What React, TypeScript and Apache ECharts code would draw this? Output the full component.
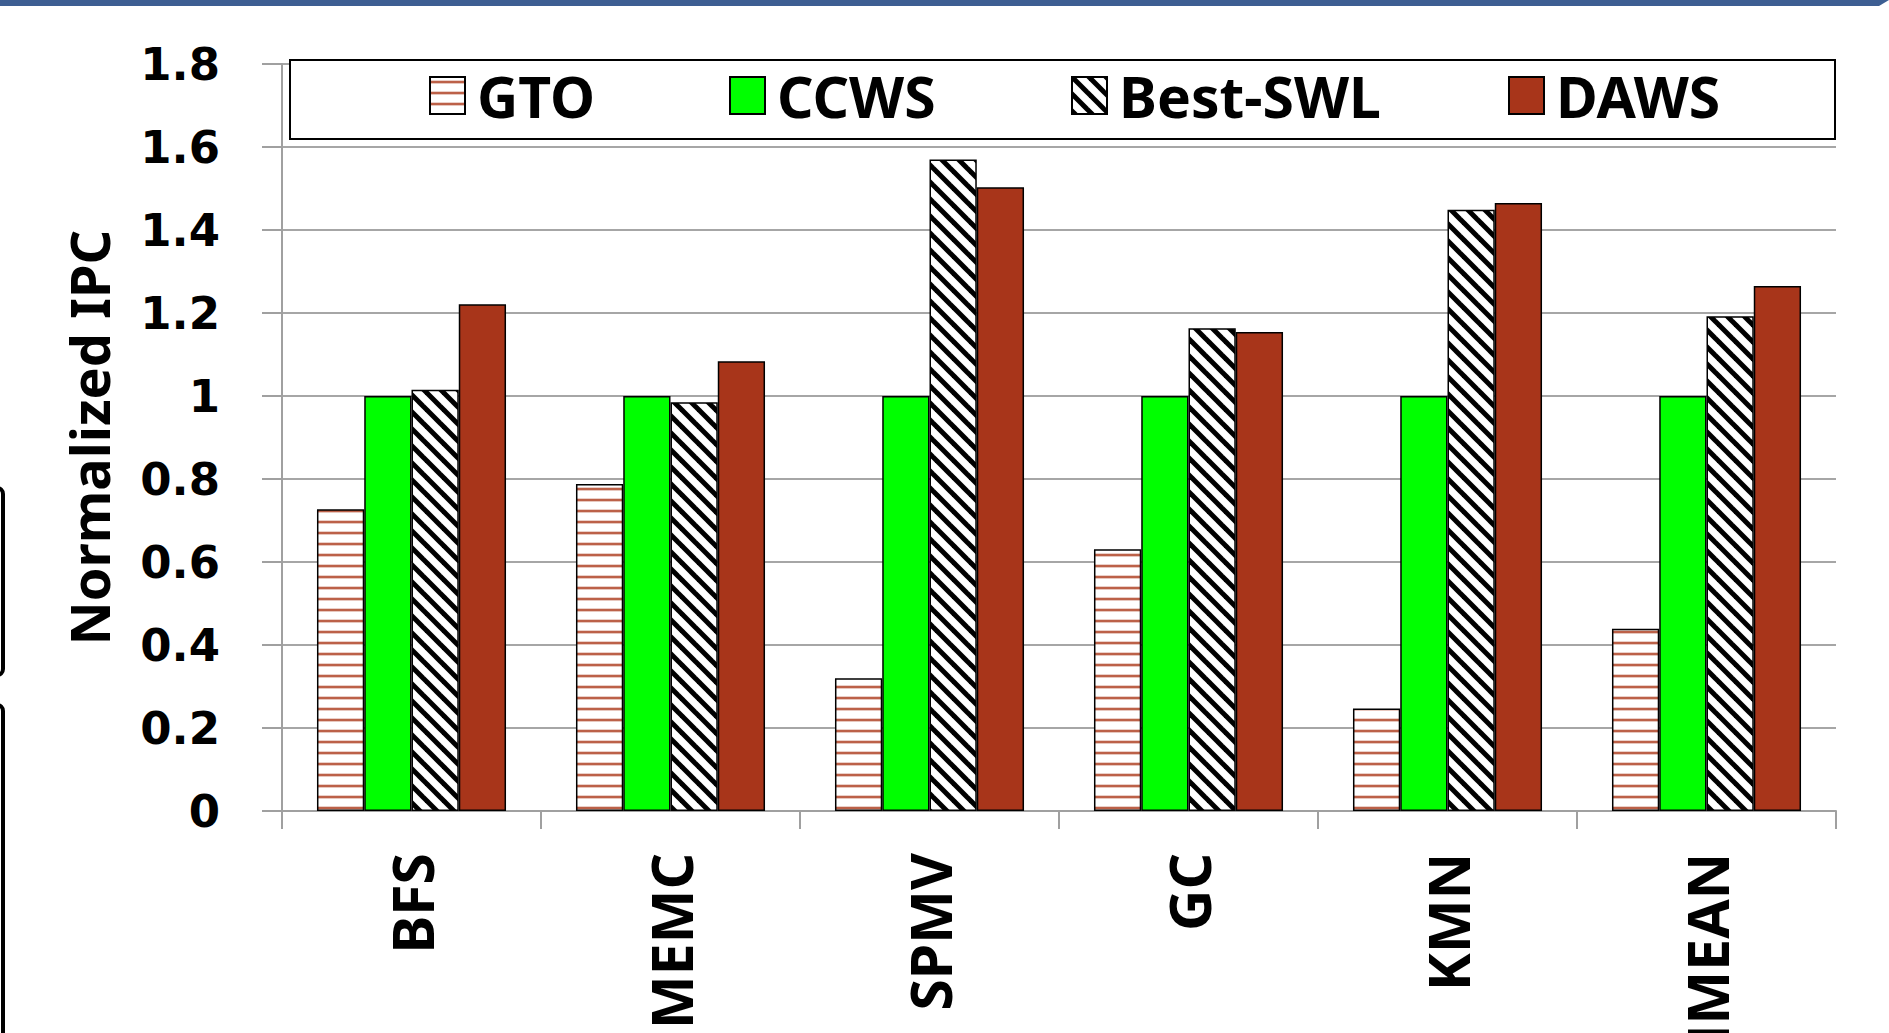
import React, { useEffect, useRef } from "react";
import * as echarts from "echarts";

const categories = ["BFS", "MEMC", "SPMV", "GC", "KMN", "HMEAN"];
const seriesNames = ["GTO", "CCWS", "Best-SWL", "DAWS"];
const gtoValues = [0.727, 0.788, 0.32, 0.631, 0.247, 0.439];
const ccwsValues = [1.0, 1.0, 1.0, 1.0, 1.0, 1.0];
const bestSwlValues = [1.015, 0.985, 1.57, 1.163, 1.449, 1.192];
const dawsValues = [1.221, 1.084, 1.503, 1.154, 1.465, 1.265];
const yTicks = { min: 0, max: 1.8, interval: 0.2 };

const NARROW = "'Noto Sans', 'Open Sans', sans-serif";
const WIDE = "'DejaVu Sans', Verdana, sans-serif";

function makeStripePattern() {
  const c = document.createElement("canvas");
  c.width = 8;
  c.height = 11;
  const ctx = c.getContext("2d")!;
  ctx.fillStyle = "#ffffff";
  ctx.fillRect(0, 0, 8, 11);
  ctx.fillStyle = "rgba(176,69,40,0.25)";
  ctx.fillRect(0, 3, 8, 1);
  ctx.fillStyle = "rgba(176,69,40,0.85)";
  ctx.fillRect(0, 4, 8, 2);
  ctx.fillStyle = "rgba(176,69,40,0.3)";
  ctx.fillRect(0, 6, 8, 1);
  return c;
}

function makeHatchPattern() {
  const s = 17;
  const c = document.createElement("canvas");
  c.width = s;
  c.height = s;
  const ctx = c.getContext("2d")!;
  ctx.fillStyle = "#ffffff";
  ctx.fillRect(0, 0, s, s);
  ctx.strokeStyle = "#000000";
  ctx.lineWidth = 5;
  for (let k = -1; k <= 1; k++) {
    ctx.beginPath();
    ctx.moveTo(k * s - 2, -2);
    ctx.lineTo(k * s + s + 2, s + 2);
    ctx.stroke();
  }
  return c;
}

export default function App() {
  const ref = useRef<HTMLDivElement>(null);

  useEffect(() => {
    if (!ref.current) return;
    const chart = echarts.init(ref.current, null, { renderer: "svg" });
    const stripe = makeStripePattern();
    const hatch = makeHatchPattern();

    const fills: any[] = [
      { image: stripe, repeat: "repeat", imageWidth: stripe.width, imageHeight: stripe.height },
      "#00ff00",
      { image: hatch, repeat: "repeat", imageWidth: hatch.width, imageHeight: hatch.height },
      "#a8351a",
    ];
    const values = [gtoValues, ccwsValues, bestSwlValues, dawsValues];
    const legendLefts = [424, 724, 1066, 1503];

    const option: any = {
      animation: false,
      backgroundColor: "#ffffff",
      grid: {
        left: 282,
        right: 53,
        top: 64,
        bottom: 222,
        containLabel: false,
        outerBoundsMode: "none",
      },
      legend: seriesNames.map((n, i) => ({
        data: [{ name: n, icon: "rect" }],
        left: legendLefts[i],
        top: 62,
        itemWidth: 35,
        itemHeight: 37,
        selectedMode: false,
        z: 10,
        textStyle: {
          fontFamily: NARROW,
          fontWeight: "bold",
          fontSize: 57,
          color: "#000",
          padding: [0, 0, 0, 7],
        },
      })),
      xAxis: {
        type: "category",
        data: categories,
        axisLine: { lineStyle: { color: "#a0a0a0", width: 2 } },
        axisTick: { show: true, length: 18, lineStyle: { color: "#a0a0a0", width: 2 } },
        axisLabel: {
          rotate: 90,
          margin: 42,
          fontFamily: NARROW,
          fontWeight: "bold",
          fontSize: 57,
          color: "#000",
          interval: 0,
        },
      },
      yAxis: {
        type: "value",
        min: yTicks.min,
        max: yTicks.max,
        interval: yTicks.interval,
        name: "Normalized IPC",
        nameLocation: "middle",
        nameRotate: 90,
        nameGap: 166,
        nameTextStyle: {
          fontFamily: NARROW,
          fontWeight: "bold",
          fontSize: 54,
          color: "#000",
        },
        axisLine: { show: true, lineStyle: { color: "#a0a0a0", width: 2 } },
        axisTick: { show: true, length: 20, lineStyle: { color: "#a0a0a0", width: 2 } },
        splitLine: { show: true, lineStyle: { color: "#a6a6a6", width: 2 } },
        axisLabel: {
          margin: 62,
          fontFamily: WIDE,
          fontWeight: "bold",
          fontSize: 45,
          color: "#000",
          formatter: (v: number) => String(Math.round(v * 10) / 10),
        },
      },
      graphic: [
        {
          type: "polygon",
          shape: { points: [[0, 0], [1889, 0], [1879, 6], [0, 6]] },
          style: { fill: "#3d5e92" },
          z: 20,
        },
        {
          type: "rect",
          shape: { x: -20, y: 488, width: 23, height: 187, r: 6 },
          style: { fill: "none", stroke: "#000", lineWidth: 4 },
          z: 20,
        },
        {
          type: "rect",
          shape: { x: -20, y: 705, width: 23, height: 360, r: 6 },
          style: { fill: "none", stroke: "#000", lineWidth: 4 },
          z: 20,
        },
        {
          type: "rect",
          shape: { x: 290, y: 60, width: 1545, height: 79 },
          style: { fill: "#ffffff", stroke: "#000", lineWidth: 2 },
          z: 5,
        },
      ],
      series: seriesNames.map((n, i) => ({
        name: n,
        type: "bar",
        data: values[i],
        barGap: "0%",
        barCategoryGap: "27%",
        itemStyle: { color: fills[i], borderColor: "#000", borderWidth: 1.5 },
      })),
    };
    chart.setOption(option);
    return () => chart.dispose();
  }, []);

  return (
    <div
      ref={ref}
      style={{ position: "absolute", left: 0, top: 0, width: 1889, height: 1033 }}
    />
  );
}
